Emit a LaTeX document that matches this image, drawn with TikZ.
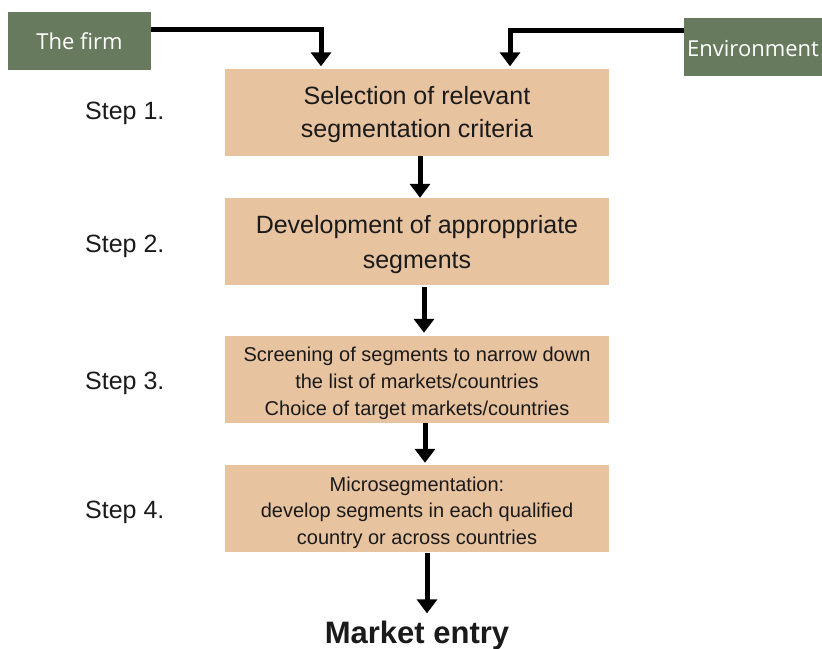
\documentclass[tikz,border=0pt]{standalone}
\usepackage{fontspec}
\setmainfont{Liberation Sans}
\newfontfamily\osfont{Open Sans}
\usetikzlibrary{arrows.meta}
\definecolor{firmgreen}{HTML}{687A5D}
\definecolor{peach}{HTML}{E8C3A0}
\definecolor{txt}{HTML}{1A1A1A}
\newcommand\toppad[1]{\rule{0pt}{#1}}
\begin{document}
\begin{tikzpicture}[x=1pt,y=-1pt,
  greenbox/.style={fill=firmgreen,text=white,minimum width=#1,minimum height=58pt,inner sep=0pt,font=\osfont\fontsize{22}{26}\selectfont},
  stepbox/.style={fill=peach,text=txt,minimum width=384pt,minimum height=87pt,inner sep=0pt,align=center},
  steplabel/.style={anchor=west,inner sep=0pt,text=txt,font=\fontsize{25}{30}\selectfont},
  conn/.style={line width=5pt,-{Triangle[width=20pt,length=14pt]}}
]
\useasboundingbox (0,0) rectangle (822,648);
\node[greenbox=143pt] (firm) at (79.5,41) {\toppad{18pt}The firm};
\node[greenbox=138pt] (env) at (753,47) {\toppad{19pt}Environment};
\node[stepbox,font=\fontsize{25}{33}\selectfont] (b1) at (417,112) {\toppad{24pt}Selection of relevant\\segmentation criteria};
\node[stepbox,font=\fontsize{25}{35}\selectfont] (b2) at (417,241.5) {\toppad{24pt}Development of approppriate\\segments};
\node[stepbox,font=\fontsize{20}{27}\selectfont] (b3) at (417,379.5) {\toppad{22.6pt}Screening of segments to narrow down\\the list of markets/countries\\Choice of target markets/countries};
\node[stepbox,font=\fontsize{20}{26.5}\selectfont] (b4) at (417,508.5) {\toppad{22.6pt}Microsegmentation:\\develop segments in each qualified\\country or across countries};
\node[anchor=base,inner sep=0pt,text=txt,font=\bfseries\fontsize{31}{36}\selectfont] (mk) at (417,643) {Market entry};
\node[steplabel] (s1) at (85,113) {Step 1.};
\node[steplabel] (s2) at (85,246) {Step 2.};
\node[steplabel] (s3) at (85,383) {Step 3.};
\node[steplabel] (s4) at (85,512) {Step 4.};
\draw[conn] ([yshift=12pt]firm.east) -| ([xshift=-96pt,yshift=2pt]b1.north);
\draw[conn] ([yshift=17pt]env.west) -| ([xshift=93pt,yshift=2pt]b1.north);
\draw[conn] ([xshift=3pt]b1.south) -- ([xshift=3pt]b2.north);
\draw[conn] ([xshift=7pt,yshift=-2pt]b2.south) -- ([xshift=7pt,yshift=3pt]b3.north);
\draw[conn] ([xshift=8pt]b3.south) -- ([xshift=8pt,yshift=2pt]b4.north);
\draw[conn] ([xshift=10pt,yshift=-1pt]b4.south) -- ([xshift=10pt,yshift=7pt]mk.north);
\end{tikzpicture}
\end{document}
